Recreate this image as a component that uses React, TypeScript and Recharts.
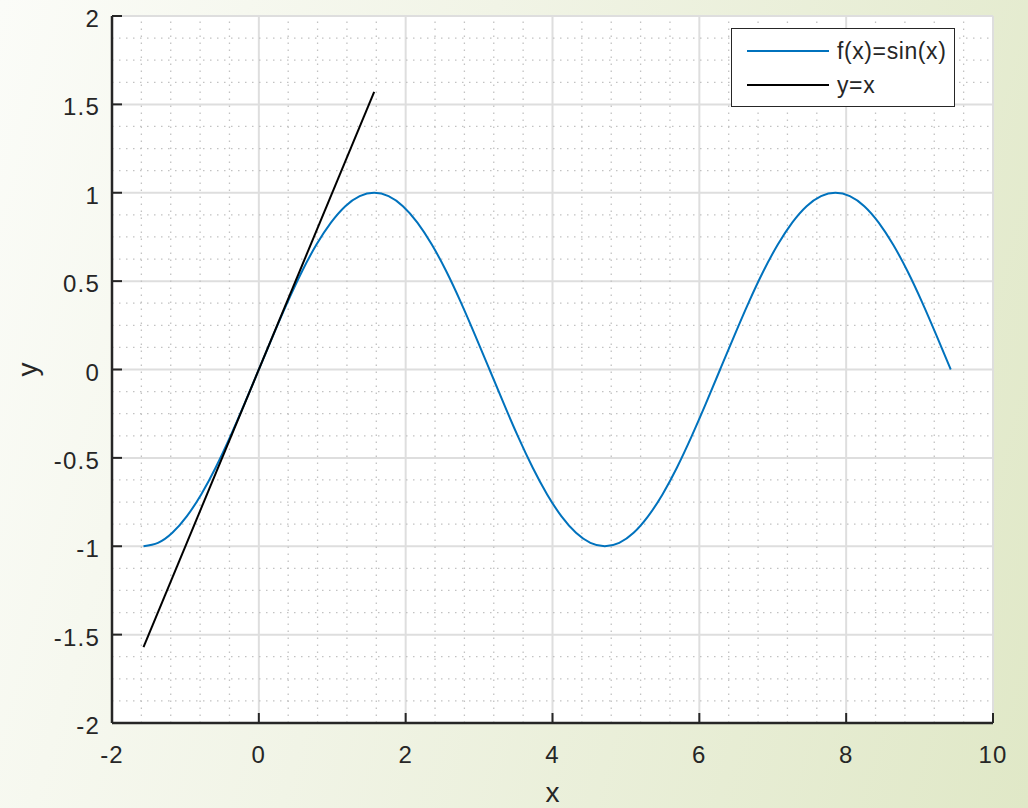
import { LineChart, Line, XAxis, YAxis, CartesianGrid, ReferenceLine } from "recharts";

// sin(x), -pi/2 .. 3pi
const sinX = [
  -1.571, -1.374, -1.178, -0.982, -0.785, -0.589, -0.393, -0.196, 0.0, 0.196,
  0.393, 0.589, 0.785, 0.982, 1.178, 1.374, 1.571, 1.767, 1.963, 2.16, 2.356,
  2.553, 2.749, 2.945, 3.142, 3.338, 3.534, 3.731, 3.927, 4.123, 4.32, 4.516,
  4.712, 4.909, 5.105, 5.301, 5.498, 5.694, 5.89, 6.087, 6.283, 6.48, 6.676,
  6.872, 7.069, 7.265, 7.461, 7.658, 7.854, 8.05, 8.247, 8.443, 8.639, 8.836,
  9.032, 9.228, 9.425,
];
const sinY = [
  -1.0, -0.981, -0.924, -0.831, -0.707, -0.556, -0.383, -0.195, 0.0, 0.195,
  0.383, 0.556, 0.707, 0.831, 0.924, 0.981, 1.0, 0.981, 0.924, 0.831, 0.707,
  0.556, 0.383, 0.195, 0.0, -0.195, -0.383, -0.556, -0.707, -0.831, -0.924, -0.981,
  -1.0, -0.981, -0.924, -0.831, -0.707, -0.556, -0.383, -0.195, 0.0, 0.195, 0.383,
  0.556, 0.707, 0.831, 0.924, 0.981, 1.0, 0.981, 0.924, 0.831, 0.707, 0.556,
  0.383, 0.195, 0.0,
];
// tangent y = x
const lineX = [-1.571, 1.571];
const lineY = [-1.571, 1.571];

const xTicks = [-2, 0, 2, 4, 6, 8, 10];
const yTicks = [-2, -1.5, -1, -0.5, 0, 0.5, 1, 1.5, 2];
const xMinor = [-1.6, -1.2, -0.8, -0.4, 0.4, 0.8, 1.2, 1.6, 2.4, 2.8, 3.2, 3.6, 4.4, 4.8, 5.2, 5.6, 6.4, 6.8, 7.2, 7.6, 8.4, 8.8, 9.2, 9.6];
const yMinor = [
  -1.875, -1.75, -1.625, -1.375, -1.25, -1.125, -0.875, -0.75, -0.625, -0.375, -0.25, -0.125,
  0.125, 0.25, 0.375, 0.625, 0.75, 0.875, 1.125, 1.25, 1.375, 1.625, 1.75, 1.875,
];

const sinData = sinX.map((x, i) => ({ x, y: sinY[i] }));
const lineData = lineX.map((x, i) => ({ x, y: lineY[i] }));

const FONT = "'Liberation Sans', Arial, sans-serif";
const AX = "#262626";
const TICK_LEN = 10;
const LABEL_GAP = 12;

// ticks drawn inward, like MATLAB
const BottomTick = (props: any) => {
  const { x, y, payload } = props;
  return (
    <g>
      <line x1={x} x2={x} y1={y} y2={y - TICK_LEN} stroke={AX} strokeWidth={2} />
      <text x={x} y={y + 40} textAnchor="middle" fontSize={24} letterSpacing={1.2} fill={AX} fontFamily={FONT}>
        {payload.value}
      </text>
    </g>
  );
};

const LeftTick = (props: any) => {
  const { x, y, payload } = props;
  return (
    <g>
      <line x1={x + LABEL_GAP} x2={x + LABEL_GAP + TICK_LEN} y1={y} y2={y} stroke={AX} strokeWidth={2} />
      <text x={x} y={y + 11} textAnchor="end" fontSize={24} letterSpacing={1.2} fill={AX} fontFamily={FONT}>
        {payload.value}
      </text>
    </g>
  );
};

const TopTick = (props: any) => {
  const { x, y } = props;
  return <line x1={x} x2={x} y1={y} y2={y + TICK_LEN} stroke={AX} strokeWidth={2} />;
};

const RightTick = (props: any) => {
  const { x, y } = props;
  return <line x1={x} x2={x - TICK_LEN} y1={y} y2={y} stroke={AX} strokeWidth={2} />;
};

export default function App() {
  return (
    <div
      style={{
        position: "fixed",
        left: 0,
        top: 0,
        width: 1028,
        height: 808,
        background: "linear-gradient(105deg, #fbfcf8 0%, #f1f4e6 40%, #e0e8c7 100%)",
        fontFamily: FONT,
      }}
    >
      <LineChart width={1028} height={808} margin={{ top: 16, right: 35, bottom: 0, left: 0 }}>
        <CartesianGrid fill="#ffffff" stroke="#dedede" strokeWidth={2} />
        {xMinor.map((v) => (
          <ReferenceLine key={"xm" + v} x={v} stroke="#c2c2c2" strokeWidth={1.3} strokeDasharray="1.5 5.5" />
        ))}
        {yMinor.map((v) => (
          <ReferenceLine key={"ym" + v} y={v} stroke="#c2c2c2" strokeWidth={1.3} strokeDasharray="1.5 5.5" />
        ))}
        <XAxis
          dataKey="x"
          type="number"
          domain={[-2, 10]}
          ticks={xTicks}
          allowDataOverflow
          height={85}
          tickSize={0}
          tickMargin={0}
          tickLine={false}
          stroke={AX}
          strokeWidth={2.5}
          tick={<BottomTick />}
          label={({ viewBox }: any) => (
            <text
              x={viewBox.x + viewBox.width / 2}
              y={viewBox.y + 79}
              textAnchor="middle"
              fontSize={28}
              fill={AX}
              fontFamily={FONT}
            >
              x
            </text>
          )}
        />
        <XAxis
          xAxisId="top"
          orientation="top"
          type="number"
          domain={[-2, 10]}
          ticks={xTicks}
          height={0}
          tickSize={0}
          tickMargin={0}
          tickLine={false}
          tick={<TopTick />}
          stroke={AX}
          strokeWidth={2.5}
        />
        <YAxis
          type="number"
          domain={[-2, 2]}
          ticks={yTicks}
          allowDataOverflow
          width={112}
          tickSize={0}
          tickMargin={LABEL_GAP}
          tickLine={false}
          stroke={AX}
          strokeWidth={2.5}
          tick={<LeftTick />}
          label={({ viewBox }: any) => {
            const cx = viewBox.x + 37;
            const cy = viewBox.y + viewBox.height / 2;
            return (
              <text
                x={cx}
                y={cy}
                textAnchor="middle"
                fontSize={28}
                fill={AX}
                fontFamily={FONT}
                transform={`rotate(-90, ${cx}, ${cy})`}
              >
                y
              </text>
            );
          }}
        />
        <YAxis
          yAxisId="right"
          orientation="right"
          type="number"
          domain={[-2, 2]}
          ticks={yTicks}
          width={0}
          tickSize={0}
          tickMargin={0}
          tickLine={false}
          tick={<RightTick />}
          stroke={AX}
          strokeWidth={2.5}
        />
        <Line
          data={sinData}
          dataKey="y"
          type="natural"
          stroke="#0072BD"
          strokeWidth={2}
          dot={false}
          isAnimationActive={false}
          name="f(x)=sin(x)"
        />
        <Line
          data={lineData}
          dataKey="y"
          type="linear"
          stroke="#000000"
          strokeWidth={2}
          dot={false}
          isAnimationActive={false}
          name="y=x"
        />
      </LineChart>
      <div
        style={{
          position: "absolute",
          left: 731,
          top: 28,
          width: 222,
          height: 77,
          background: "#fff",
          border: `1.5px solid ${AX}`,
          fontSize: 23,
          letterSpacing: 0.6,
          color: AX,
        }}
      >
        {[
          { label: "f(x)=sin(x)", color: "#0072BD" },
          { label: "y=x", color: "#000" },
        ].map((item, i) => (
          <div
            key={item.label}
            style={{ position: "absolute", left: 15, top: 8 + i * 34, display: "flex", alignItems: "center", height: 28 }}
          >
            <div style={{ width: 82, height: 2, background: item.color, marginRight: 8 }} />
            <span>{item.label}</span>
          </div>
        ))}
      </div>
    </div>
  );
}
